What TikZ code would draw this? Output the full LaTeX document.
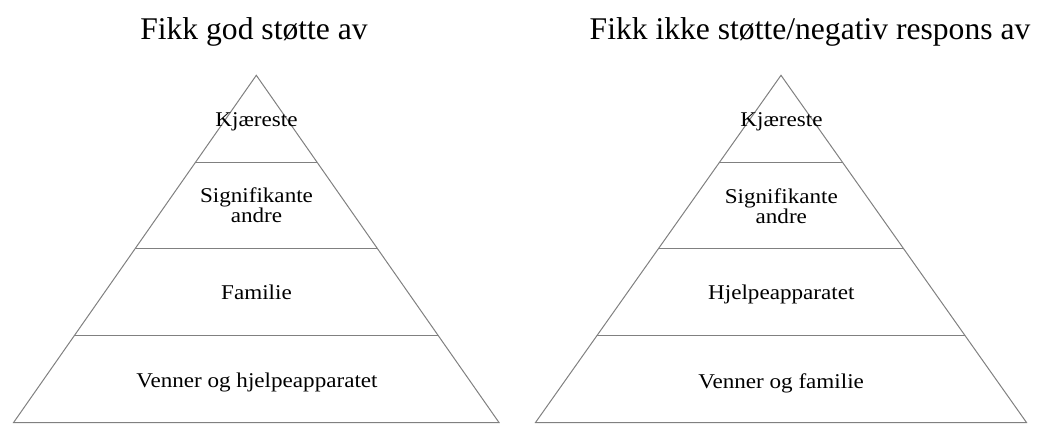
\documentclass[tikz,border=0pt]{standalone}
\usepackage{fontspec}
\setmainfont{Liberation Serif}
\newfontfamily\labelfont[FakeStretch=1.1]{Liberation Serif}
\usetikzlibrary{calc}
\definecolor{edgegray}{RGB}{128,128,128}
\tikzset{
  pyr/.style={draw=edgegray, line width=1pt},
  heading/.style={font=\fontsize{31.6}{38}\selectfont, anchor=base, inner sep=0pt},
  lbl/.style={font=\labelfont\fontsize{21}{20}\selectfont, anchor=base, inner sep=0pt, align=center},
}
\begin{document}
\begin{tikzpicture}[x=1pt,y=-1pt]
\useasboundingbox (0,0) rectangle (1041,423);

% headings
\node[heading] (hleft) at (254,39.3) {Fikk god støtte av};
\node[heading] (hright) at (810,39.3) {Fikk ikke støtte/negativ respons av};

% left pyramid
\coordinate (LA) at (256.3,75.3);
\coordinate (LL) at (13.6,422.5);
\coordinate (LR) at (499,422.5);
\draw[pyr] (LL) -- (LA) -- (LR) -- cycle;
\foreach \t in {0.25,0.5,0.75}
  \draw[pyr] ($(LA)!\t!(LL)$) -- ($(LA)!\t!(LR)$);

% the base anchor of a two-line label sits on its last line
\node[lbl] (l1) at (256.5,126) {Kjæreste};
\node[lbl] (l2) at (256.5,222.7) {Signifikante\\andre};
\node[lbl] (l3) at (256.5,299.7) {Familie};
\node[lbl] (l4) at (257,387.3) {Venner og hjelpeapparatet};

% right pyramid
\coordinate (RA) at (781,75.3);
\coordinate (RL) at (535.5,422.5);
\coordinate (RR) at (1026.5,422.5);
\draw[pyr] (RL) -- (RA) -- (RR) -- cycle;
\foreach \t in {0.25,0.5,0.75}
  \draw[pyr] ($(RA)!\t!(RL)$) -- ($(RA)!\t!(RR)$);

\node[lbl] (r1) at (781.5,126) {Kjæreste};
\node[lbl] (r2) at (781.3,223.3) {Signifikante\\andre};
\node[lbl] (r3) at (781.3,299.7) {Hjelpeapparatet};
\node[lbl] (r4) at (781.2,388) {Venner og familie};
\end{tikzpicture}
\end{document}
